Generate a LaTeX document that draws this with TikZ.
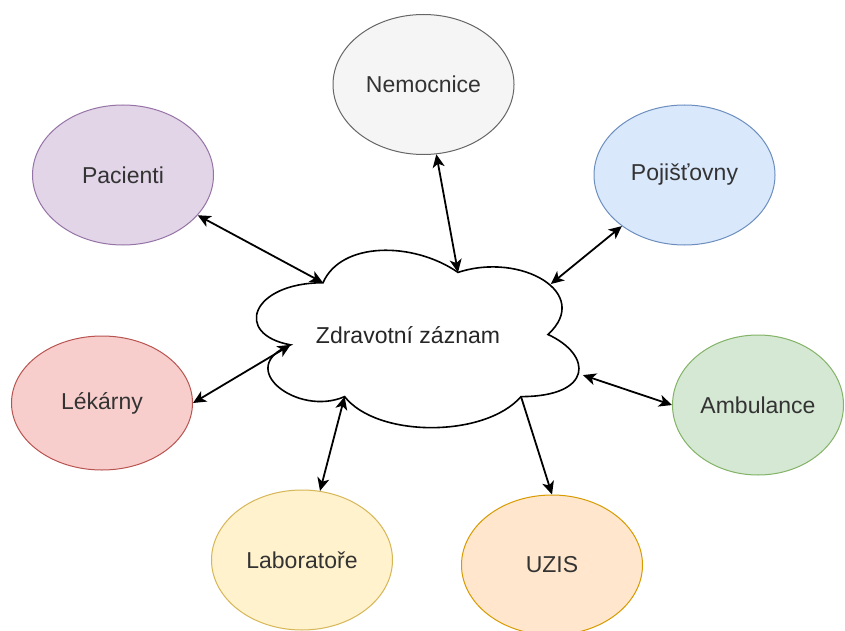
\documentclass[tikz,border=0pt]{standalone}
\usepackage{fontspec}
\setmainfont{Liberation Sans}
\usetikzlibrary{shapes.geometric,arrows.meta}

\definecolor{txt}{HTML}{333333}
\definecolor{nemF}{HTML}{F5F5F5}\definecolor{nemD}{HTML}{666666}
\definecolor{pacF}{HTML}{E1D5E7}\definecolor{pacD}{HTML}{9673A6}
\definecolor{pojF}{HTML}{DAE8FC}\definecolor{pojD}{HTML}{6C8EBF}
\definecolor{lekF}{HTML}{F8CECC}\definecolor{lekD}{HTML}{B85450}
\definecolor{ambF}{HTML}{D5E8D4}\definecolor{ambD}{HTML}{82B366}
\definecolor{labF}{HTML}{FFF2CC}\definecolor{labD}{HTML}{D6B656}
\definecolor{uzF}{HTML}{FFE6CC}\definecolor{uzD}{HTML}{D79B00}

\begin{document}
\begin{tikzpicture}[x=1pt,y=-1pt,
  label text/.style={text=txt, font=\fontsize{23}{27}\selectfont},
  bubble/.style={ellipse, draw, line width=1pt, minimum width=181pt,
    minimum height=140pt, inner sep=0pt, label text},
  tip/.tip={Stealth[length=13pt,width=12pt,inset=3.5pt]},
  link/.style={line width=1.8pt, tip-tip},
  oneway/.style={line width=1.8pt, -tip}]

\fill[white] (0,0) rectangle (845,631);
\useasboundingbox (0,0) rectangle (845,631);

% central record: cloud outline and the points where the connectors meet it
\begin{scope}[shift={(233,231)}, x=360pt, y=-207pt]
  \draw[line width=1.6pt, fill=white]
    (0.25,0.25) .. controls (0.05,0.25) and (0,0.5) .. (0.16,0.55)
    .. controls (0,0.66) and (0.18,0.9) .. (0.31,0.8)
    .. controls (0.4,1) and (0.7,1) .. (0.8,0.8)
    .. controls (1,0.8) and (1,0.6) .. (0.875,0.5)
    .. controls (1,0.3) and (0.8,0.1) .. (0.625,0.2)
    .. controls (0.5,0.05) and (0.3,0.05) .. (0.25,0.25) -- cycle;
  \coordinate (cPac) at (0.25,0.25);
  \coordinate (cNem) at (0.625,0.2);
  \coordinate (cPoj) at (0.883,0.256);
  \coordinate (cLek) at (0.16,0.55);
  \coordinate (cAmb) at (0.972,0.696);
  \coordinate (cLab) at (0.31,0.8);
  \coordinate (cUzis) at (0.8,0.8);
\end{scope}
\node[label text, text=black!85] (rec) at (408,335) {Zdravotní záznam};

% surrounding parties
\node[bubble, fill=nemF, draw=nemD] (nem) at (423.5,84.5) {Nemocnice};
\node[bubble, fill=pacF, draw=pacD] (pac) at (123,175) {Pacienti};
\node[bubble, fill=pojF, draw=pojD] (poj) at (684.5,175) {Pojišťovny};
\node[bubble, fill=lekF, draw=lekD, minimum height=134pt] (lek) at (102,403) {Lékárny};
\node[bubble, fill=ambF, draw=ambD, minimum width=171pt] (amb) at (758,405) {Ambulance};
\node[bubble, fill=labF, draw=labD] (lab) at (302,560) {Laboratoře};
\node[bubble, fill=uzF, draw=uzD] (uzis) at (552,565) {UZIS};

% data flows
\draw[link] (pac) -- (cPac);
\draw[link] (nem) -- (cNem);
\draw[link] (poj) -- (cPoj);
\draw[link] (lek.east) -- (cLek);
\draw[link] (amb.west) -- (cAmb);
\draw[link] (lab) -- (cLab);
\draw[oneway] (cUzis) -- (uzis.north);
\end{tikzpicture}
\end{document}
